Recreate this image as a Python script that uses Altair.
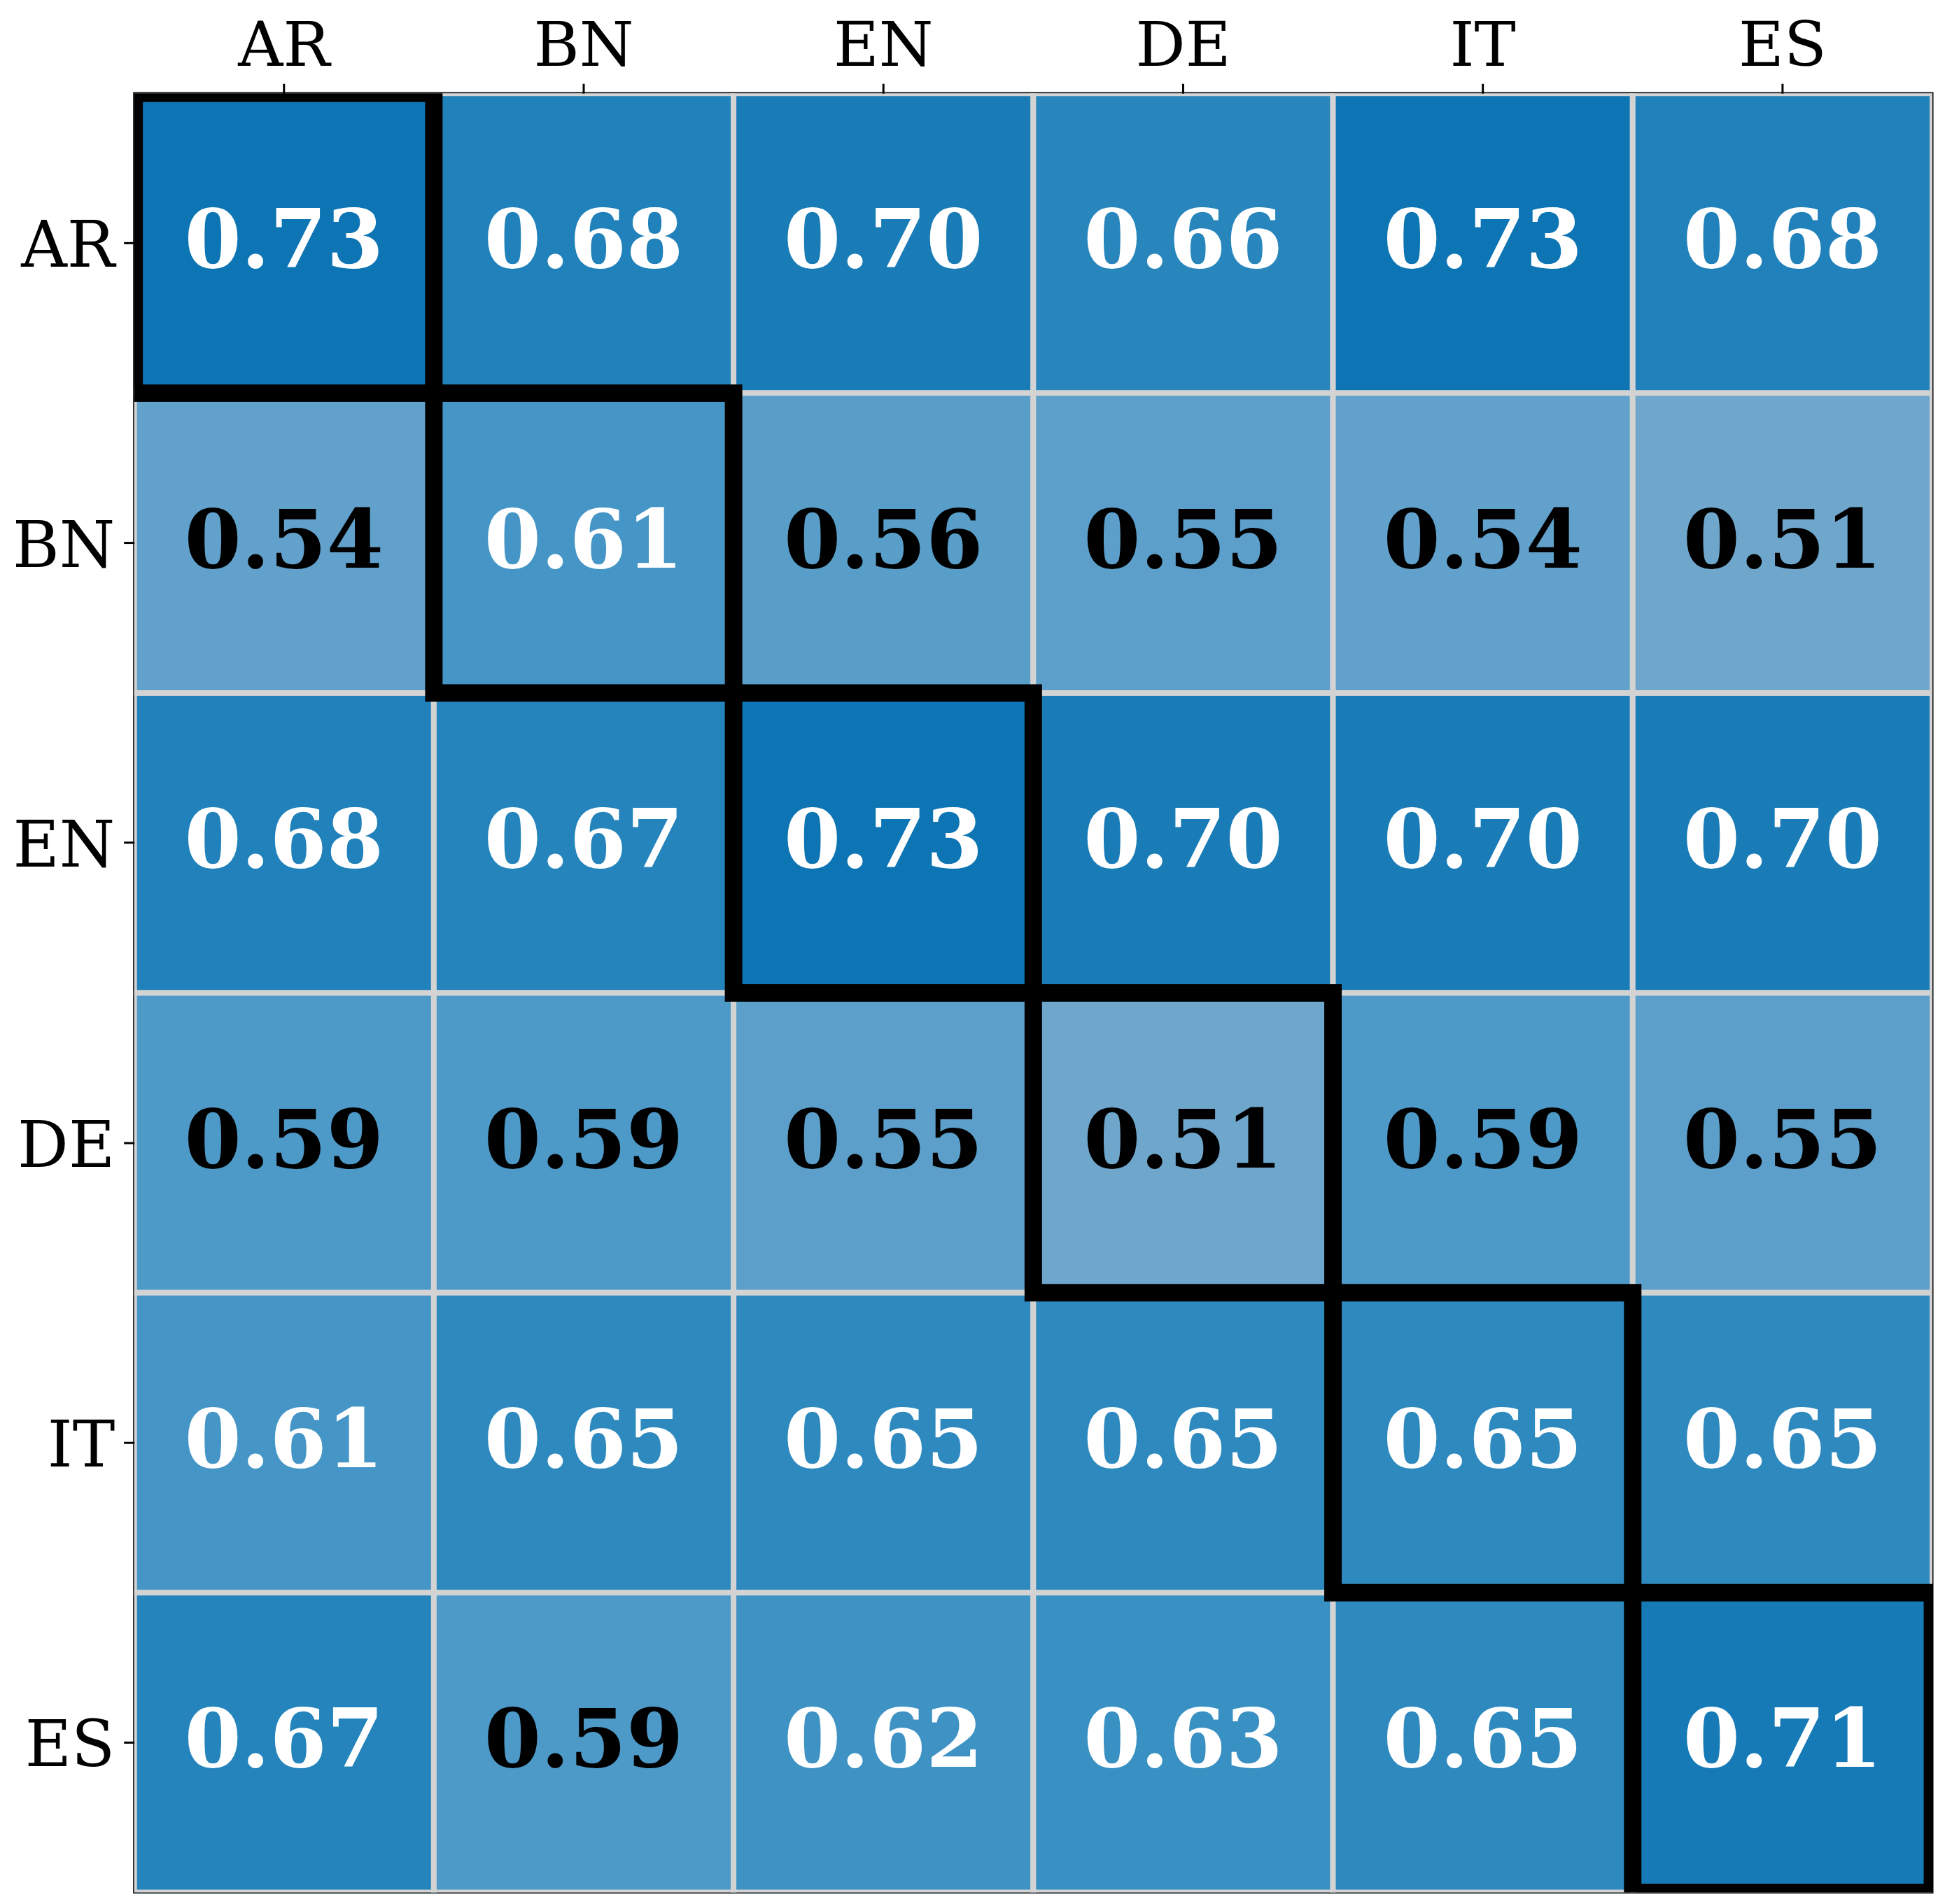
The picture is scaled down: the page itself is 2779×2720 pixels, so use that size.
import altair as alt
import pandas as pd

languages = ["AR", "BN", "EN", "DE", "IT", "ES"]

row_AR = [0.73, 0.68, 0.70, 0.66, 0.73, 0.68]
row_BN = [0.54, 0.61, 0.56, 0.55, 0.54, 0.51]
row_EN = [0.68, 0.67, 0.73, 0.70, 0.70, 0.70]
row_DE = [0.59, 0.59, 0.55, 0.51, 0.59, 0.55]
row_IT = [0.61, 0.65, 0.65, 0.65, 0.65, 0.65]
row_ES = [0.67, 0.59, 0.62, 0.63, 0.65, 0.71]

rows = [row_AR, row_BN, row_EN, row_DE, row_IT, row_ES]

records = []
for r_lang, vals in zip(languages, rows):
    for c_lang, v in zip(languages, vals):
        records.append({"row": r_lang, "col": c_lang, "value": v,
                        "label": f"{v:.2f}"})
df = pd.DataFrame(records)

FONT = "DejaVu Serif"
W, H = 2574, 2575

x_enc = alt.X(
    "col:N", sort=languages, title=None,
    scale=alt.Scale(paddingInner=0, paddingOuter=0),
    axis=alt.Axis(orient="top", labelAngle=0, labelFont=FONT, labelFontSize=89,
                  labelColor="black", labelBaseline="alphabetic", labelPadding=26,
                  tickColor="black", tickWidth=3, tickSize=14, domain=False),
)
y_enc = alt.Y(
    "row:N", sort=languages, title=None,
    scale=alt.Scale(paddingInner=0, paddingOuter=0),
    axis=alt.Axis(orient="left", labelFont=FONT, labelFontSize=91,
                  labelColor="black", labelBaseline="alphabetic", labelOffset=34,
                  labelPadding=13, tickColor="black", tickWidth=3, tickSize=15,
                  domain=False),
)

base = alt.Chart(df).encode(x=x_enc, y=y_enc)

cells = base.mark_rect(stroke="#d3d3d3", strokeWidth=8, clip=True).encode(
    color=alt.Color(
        "value:Q", legend=None,
        scale=alt.Scale(
            domain=[0.51, 0.55, 0.61, 0.66, 0.70, 0.73],
            range=["#6fa6cc", "#5c9fca", "#4596c6", "#2886bc", "#1a7cb7", "#0e75b4"],
            interpolate="rgb",
        ),
    )
)

diag = base.transform_filter("datum.row == datum.col").mark_rect(
    fill="white", fillOpacity=0, stroke="black", strokeWidth=25, clip=True
)

texts = base.mark_text(font=FONT, fontSize=117, fontWeight="bold",
                       align="center", baseline="middle").encode(
    text="label:N",
    color=alt.condition("datum.value >= 0.6", alt.value("white"), alt.value("black")),
)

chart = alt.layer(cells, diag, texts).properties(
    width=W, height=H,
    autosize=alt.AutoSizeParams(type="none"),
    padding={"left": 184, "top": 123, "right": 10, "bottom": 10},
).configure_view(stroke="black", strokeWidth=3)

chart.save("out.html", embed_options={"renderer": "svg", "actions": False})
